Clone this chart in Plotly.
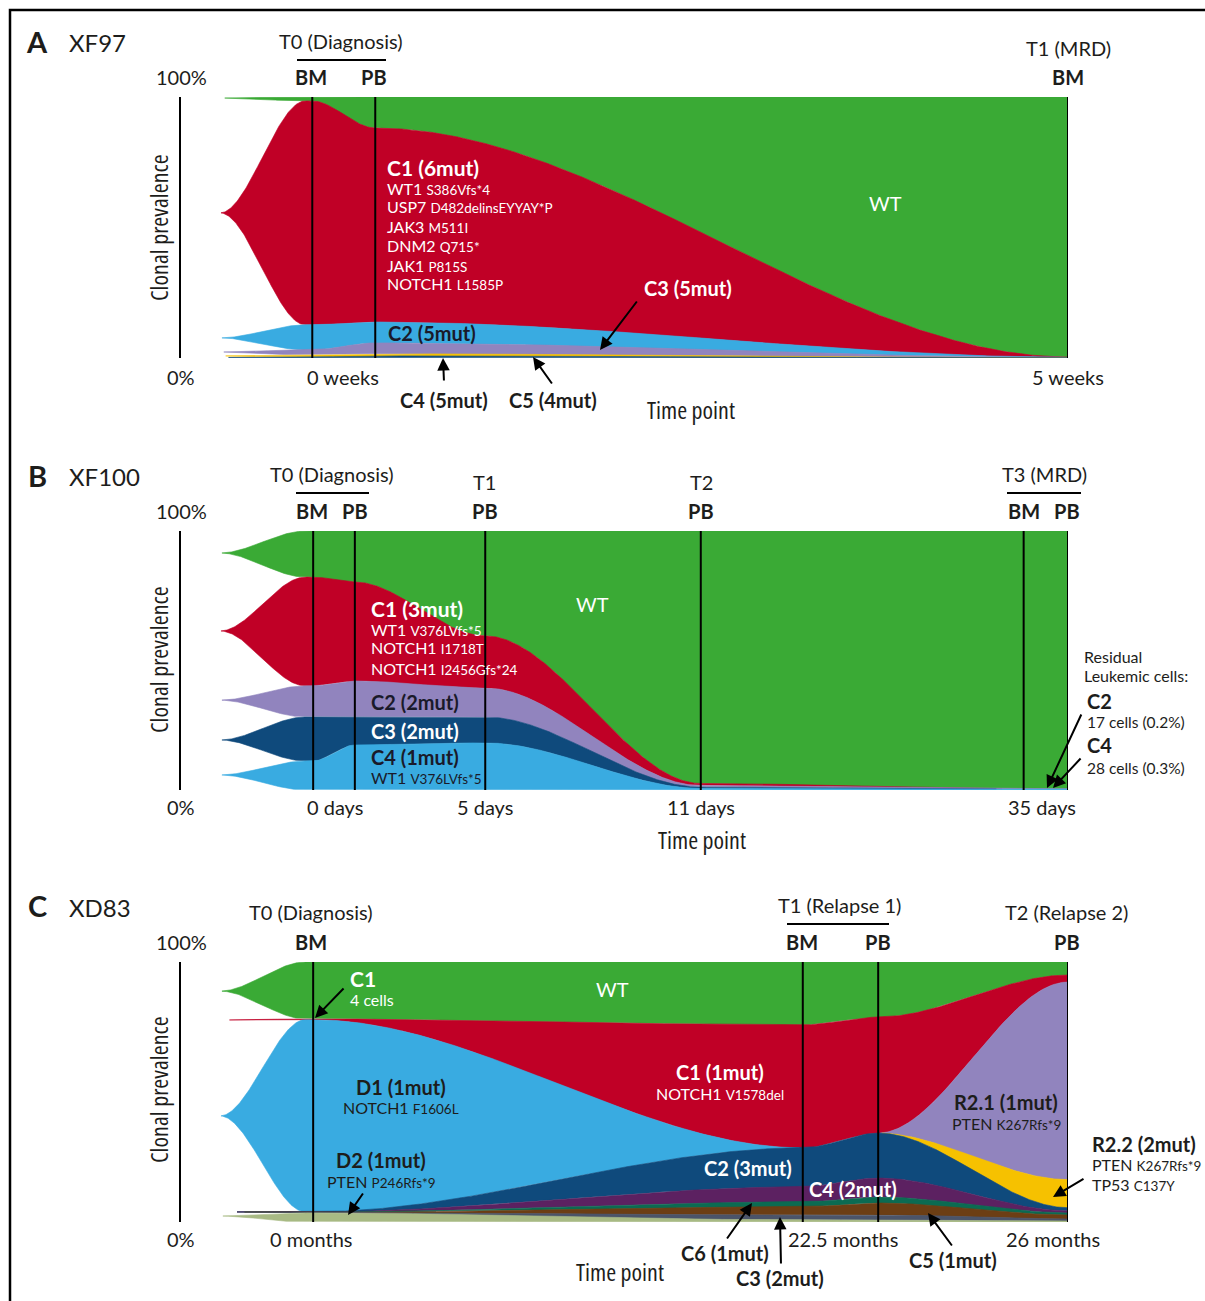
import numpy as np
import plotly.graph_objects as go

W, H = 1205, 1301
FONT = "Lato, 'Open Sans', sans-serif"
COND = "'Open Sans', 'Noto Sans', sans-serif"
INK = "#1d1d1b"

GREEN = "#3aaa35"
RED = "#c00026"
LBLUE = "#39abe1"
LAV = "#9184be"
DBLUE = "#0f4a7c"
YELLOW = "#f6c100"
PURPLE = "#5c2161"
TEAL = "#0b6b52"
BROWN = "#6c3e14"
SLATE = "#4b5469"
OLIVE = "#a8ba84"

# ---------------- Panel A: XF97 (prevalence %, per sample) ----------------
A_samples = ["BM", "PB", "BM"]
A_pos = [0.148, 0.219, 1.0]
A_clones = ["WT", "C1", "C2", "C3", "C5", "C4"]
A_WT = [1.5, 11.9, 99.6]
A_C1 = [85.8, 74.3, 0.1]
A_C2 = [9.6, 8.0, 0.1]
A_C3 = [1.9, 4.2, 0.1]
A_C5 = [0.8, 0.8, 0.05]
A_C4 = [0.4, 0.8, 0.05]
A_seed = [99.6, 55.6, 7.7, 2.3, 0.8, 0.2]

# ---------------- Panel B: XF100 ----------------
B_samples = ["BM", "PB", "PB", "PB", "BM", "PB"]
B_pos = [0.149, 0.196, 0.343, 0.586, 0.950, 1.0]
B_clones = ["WT", "C1", "C2", "C3", "C4"]
B_WT = [17.8, 19.7, 40.5, 97.5, 99.5, 99.5]
B_C1 = [42.0, 38.2, 20.1, 0.8, 0.0, 0.0]
B_C2 = [12.0, 13.9, 11.2, 0.6, 0.2, 0.2]
B_C3 = [17.0, 10.8, 10.0, 0.5, 0.0, 0.0]
B_C4 = [11.2, 17.4, 18.2, 0.6, 0.3, 0.3]
B_seed = [91.5, 61.4, 34.7, 19.3, 5.8]

# ---------------- Panel C: XD83 ----------------
C_samples = ["BM", "BM", "PB", "PB"]
C_pos = [0.149, 0.701, 0.786, 1.0]
C_clones = ["WT", "C1", "D1", "R2.1", "R2.2", "C2", "C4", "C6", "C5", "C3", "D2"]
C_WT = [21.9, 24.2, 21.2, 5.0]
C_C1 = [0.3, 47.3, 44.6, 2.7]
C_D1 = [73.9, 0.0, 0.0, 0.0]
C_R21 = [0.0, 0.0, 0.0, 76.0]
C_R22 = [0.0, 0.0, 0.0, 10.8]
C_C2 = [0.1, 15.0, 17.3, 1.2]
C_C4 = [0.1, 5.8, 7.3, 0.8]
C_C6 = [0.05, 1.9, 2.3, 0.8]
C_C5 = [0.05, 3.1, 4.6, 1.5]
C_C3 = [0.1, 1.9, 1.9, 0.8]
C_D2 = [3.5, 0.8, 0.8, 0.4]
C_seed = [88.8, 77.7, 40.8, None, None, 3.9, 3.9, 3.9, 3.9, 3.9, 2.3]

ORIGIN_X = 0.044   # where every clone emerges
RAMP_END = 0.140   # emergence completed


def smooth(t):
    t = np.clip(t, 0.0, 1.0)
    return t * t * (3 - 2 * t)


def stack(widths):
    w = np.asarray(widths, float)
    bottoms = np.cumsum(w[::-1])[::-1] - w
    return bottoms + w, bottoms


def fish_bounds(values, positions, seeds, xs):
    V = np.array(values, float)
    n = V.shape[0]
    tops = np.full((n, len(xs)), np.nan)
    bots = np.full((n, len(xs)), np.nan)
    t1, b1 = stack(V[:, 0])
    c = np.array([(t1[i] + b1[i]) / 2 if seeds[i] is None else seeds[i] for i in range(n)])
    for k, x in enumerate(xs):
        if x < ORIGIN_X:
            continue
        if x <= RAMP_END:
            s = smooth((x - ORIGIN_X) / (RAMP_END - ORIGIN_X))
            tops[:, k] = c + s * (t1 - c)
            bots[:, k] = c + s * (b1 - c)
        elif x <= positions[0]:
            tops[:, k], bots[:, k] = t1, b1
        else:
            j = int(np.searchsorted(positions, x)) - 1
            j = min(max(j, 0), len(positions) - 2)
            s = smooth((x - positions[j]) / (positions[j + 1] - positions[j]))
            w = V[:, j] + s * (V[:, j + 1] - V[:, j])
            tops[:, k], bots[:, k] = stack(w)
    return tops, bots


fig = go.Figure()


def add_fish(values, positions, seeds, colors, xa, ya):
    xs = np.unique(np.concatenate([np.linspace(ORIGIN_X, 1.0, 900), positions]))
    tops, bots = fish_bounds(values, positions, seeds, xs)
    for i, col in enumerate(colors):
        w = tops[i] - bots[i]
        idx = np.where(np.nan_to_num(w) > 0.01)[0]
        if len(idx) == 0:
            continue
        sl = slice(idx[0], idx[-1] + 1)
        x = xs[sl]
        px = np.concatenate([x, x[::-1]])
        py = np.concatenate([tops[i][sl], bots[i][sl][::-1]])
        fig.add_trace(go.Scatter(x=px, y=py, fill="toself", fillcolor=col, mode="lines",
                                 line=dict(color=col, width=0.6), hoverinfo="skip",
                                 showlegend=False, xaxis=xa, yaxis=ya))


add_fish([A_WT, A_C1, A_C2, A_C3, A_C5, A_C4], A_pos, A_seed,
         [GREEN, RED, LBLUE, LAV, YELLOW, DBLUE], "x", "y")
add_fish([B_WT, B_C1, B_C2, B_C3, B_C4], B_pos, B_seed,
         [GREEN, RED, LAV, DBLUE, LBLUE], "x2", "y2")
add_fish([C_WT, C_C1, C_D1, C_R21, C_R22, C_C2, C_C4, C_C6, C_C5, C_C3, C_D2], C_pos, C_seed,
         [GREEN, RED, LBLUE, LAV, YELLOW, DBLUE, PURPLE, TEAL, BROWN, SLATE, OLIVE], "x3", "y3")

# ---------------- axes ----------------
XDOM = [181 / W, 1068 / W]
panels_px = [(97, 358), (531, 790), (962, 1222)]
layout_axes = {}
for k, (top, bot) in enumerate(panels_px):
    sfx = "" if k == 0 else str(k + 1)
    layout_axes["xaxis" + sfx] = dict(domain=XDOM, range=[0, 1], visible=False, fixedrange=True,
                                      anchor="y" + sfx)
    layout_axes["yaxis" + sfx] = dict(domain=[1 - bot / H, 1 - top / H], range=[0, 100],
                                      showline=True, linecolor="black", linewidth=2,
                                      showticklabels=False, ticks="", showgrid=False,
                                      zeroline=False, fixedrange=True, anchor="x" + sfx)

shapes = []
for pos, xa, ya in [(A_pos, "x", "y"), (B_pos, "x2", "y2"), (C_pos, "x3", "y3")]:
    for p in pos:
        shapes.append(dict(type="line", xref=xa, yref=ya, x0=p, x1=p, y0=0, y1=100,
                           line=dict(color="black", width=2)))


def hline(x0, x1, y):
    shapes.append(dict(type="line", xref="paper", yref="paper", x0=x0 / W, x1=x1 / W,
                       y0=1 - y / H, y1=1 - y / H, line=dict(color="black", width=2)))


hline(297, 386, 60)
hline(296, 369, 493)
hline(1007, 1081, 493)
hline(787, 889, 924)
# outer frame
shapes.append(dict(type="rect", xref="paper", yref="paper", x0=10 / W, x1=1230 / W,
                   y0=1 - 1330 / H, y1=1 - 10 / H, line=dict(color="black", width=2.5)))

ann = []


def T(text, x, y, size=20, color=INK, anchor="center", family=FONT, angle=0):
    ann.append(dict(text=text, x=x / W, y=1 - y / H, xref="paper", yref="paper",
                    xanchor=anchor, yanchor="middle", showarrow=False, textangle=angle,
                    font=dict(size=size, color=color, family=family)))


def NARROW(text, x, y, angle=0):
    T(f"<span style='font-stretch:75%'>{text}</span>", x, y, 24, INK, "center", COND, angle)


def ARROW(hx, hy, tx, ty):
    ann.append(dict(text="", x=hx / W, y=1 - hy / H, xref="paper", yref="paper",
                    ax=tx - hx, ay=ty - hy, showarrow=True, arrowhead=2, arrowsize=1.25,
                    arrowwidth=2, arrowcolor="black"))


def MUT(gene, variant, x, y, color, anchor="left"):
    T(f"{gene} <span style='font-size:13.5px'>{variant}</span>", x, y, 16, color, anchor)


WHITE = "white"
DARK = "#1a1a2a"

# --- A ---
T("<b>A</b>", 37, 42, 29)
T("XF97", 97, 43, 24)
T("T0 (Diagnosis)", 341, 41)
T("<b>BM</b>", 311, 77)
T("<b>PB</b>", 374, 77)
T("T1 (MRD)", 1068, 48)
T("<b>BM</b>", 1068, 77)
T("100%", 181, 77)
T("0%", 181, 377)
NARROW("Clonal prevalence", 158, 228, -90)
T("0 weeks", 343, 377)
T("5 weeks", 1068, 377)
NARROW("Time point", 691, 409)
T("<b>C1 (6mut)</b>", 385, 168, 21, WHITE, "left")
for (g, v), yy in zip([("WT1", "S386Vfs*4"), ("USP7", "D482delinsEYYAY*P"), ("JAK3", "M511I"),
                       ("DNM2", "Q715*"), ("JAK1", "P815S"), ("NOTCH1", "L1585P")],
                      [188, 207, 226, 246, 265, 284]):
    MUT(g, v, 385, yy, WHITE)
T("WT", 885, 203, 20, WHITE)
T("<b>C3 (5mut)</b>", 688, 288, 20, WHITE)
ARROW(600, 350, 638, 300)
T("<b>C2 (5mut)</b>", 432, 333, 20, DARK)
T("<b>C4 (5mut)</b>", 444, 400)
ARROW(443, 358, 444, 382)
T("<b>C5 (4mut)</b>", 553, 400)
ARROW(533, 357, 553, 385)

# --- B ---
T("<b>B</b>", 37, 475, 29)
T("XF100", 104, 476, 24)
T("T0 (Diagnosis)", 332, 474)
T("<b>BM</b>", 312, 511)
T("<b>PB</b>", 355, 511)
T("T1", 484, 482)
T("<b>PB</b>", 485, 511)
T("T2", 701, 482)
T("<b>PB</b>", 701, 511)
T("T3 (MRD)", 1044, 474)
T("<b>BM</b>", 1024, 511)
T("<b>PB</b>", 1067, 511)
T("100%", 181, 511)
T("0%", 181, 807)
NARROW("Clonal prevalence", 158, 660, -90)
T("0 days", 335, 807)
T("5 days", 485, 807)
T("11 days", 701, 807)
T("35 days", 1042, 807)
NARROW("Time point", 702, 839)
T("<b>C1 (3mut)</b>", 369, 608, 21, WHITE, "left")
MUT("WT1", "V376LVfs*5", 369, 629, WHITE)
MUT("NOTCH1", "I1718T", 369, 648, WHITE)
MUT("NOTCH1", "I2456Gfs*24", 369, 668, WHITE)
T("WT", 592, 604, 20, WHITE)
T("<b>C2 (2mut)</b>", 369, 702, 20, DARK, "left")
T("<b>C3 (2mut)</b>", 369, 731, 20, WHITE, "left")
T("<b>C4 (1mut)</b>", 369, 757, 20, DARK, "left")
MUT("WT1", "V376LVfs*5", 369, 777, DARK)
T("Residual", 1082, 656, 16, anchor="left")
T("Leukemic cells:", 1082, 675, 16, anchor="left")
T("<b>C2</b>", 1085, 701, 20, anchor="left")
T("17 cells (0.2%)", 1085, 722, 15.5, anchor="left")
T("<b>C4</b>", 1085, 745, 20, anchor="left")
T("28 cells (0.3%)", 1085, 768, 15.5, anchor="left")
ARROW(1047, 788, 1082, 713)
ARROW(1053, 788, 1082, 757)

# --- C ---
T("<b>C</b>", 37, 905, 29)
T("XD83", 100, 907, 24)
T("T0 (Diagnosis)", 311, 912)
T("<b>BM</b>", 311, 942)
T("T1 (Relapse 1)", 839, 905)
T("<b>BM</b>", 802, 942)
T("<b>PB</b>", 878, 942)
T("T2 (Relapse 2)", 1066, 912)
T("<b>PB</b>", 1067, 942)
T("100%", 181, 942)
T("0%", 181, 1239)
NARROW("Clonal prevalence", 158, 1090, -90)
T("0 months", 311, 1239)
T("22.5 months", 843, 1239)
T("26 months", 1053, 1239)
NARROW("Time point", 620, 1271)
T("<b>C1</b>", 348, 978, 21, WHITE, "left")
T("4 cells", 348, 999, 16, WHITE, "left")
ARROW(315, 1018, 345, 987)
T("WT", 612, 989, 20, WHITE)
T("<b>D1 (1mut)</b>", 401, 1087)
MUT("NOTCH1", "F1606L", 401, 1107, INK, "center")
T("<b>C1 (1mut)</b>", 720, 1072, 20, WHITE)
MUT("NOTCH1", "V1578del", 720, 1093, WHITE, "center")
T("<b>D2 (1mut)</b>", 381, 1160)
MUT("PTEN", "P246Rfs*9", 381, 1181, INK, "center")
ARROW(348, 1215, 364, 1192)
T("<b>C2 (3mut)</b>", 748, 1168, 20, WHITE)
T("<b>C4 (2mut)</b>", 853, 1189, 20, WHITE)
T("<b>R2.1 (1mut)</b>", 1006, 1102)
MUT("PTEN", "K267Rfs*9", 1006, 1123, INK, "center")
T("<b>R2.2 (2mut)</b>", 1090, 1144, anchor="left")
MUT("PTEN", "K267Rfs*9", 1090, 1164, INK)
MUT("TP53", "C137Y", 1090, 1184, INK)
ARROW(1053, 1197, 1085, 1178)
T("<b>C6 (1mut)</b>", 725, 1253)
ARROW(752, 1203, 726, 1240)
T("<b>C3 (2mut)</b>", 780, 1278)
ARROW(780, 1217, 781, 1265)
T("<b>C5 (1mut)</b>", 953, 1260)
ARROW(928, 1213, 953, 1247)

fig.update_layout(width=W, height=H, margin=dict(l=0, r=0, t=0, b=0),
                  paper_bgcolor="white", plot_bgcolor="white",
                  shapes=shapes, annotations=ann, showlegend=False, **layout_axes)

fig.write_html("out.html", config={"displayModeBar": False})
